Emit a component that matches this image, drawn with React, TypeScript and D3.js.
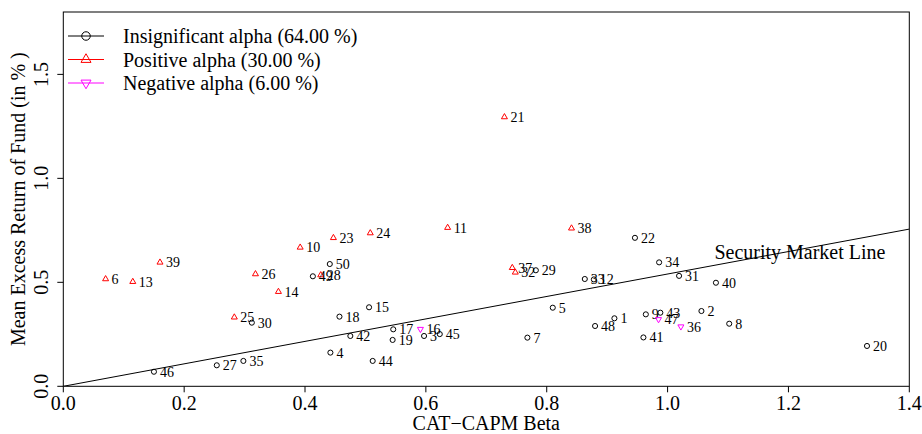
import * as d3 from 'd3';

// fund numbers 1..50
const fundIds = d3.range(1, 51);
const betas = [
  0.912, 1.056, 0.597, 0.442, 0.810, 0.070, 0.768, 1.102, 0.964, 0.392,
  0.636, 0.878, 0.115, 0.356, 0.506, 0.591, 0.546, 0.457, 0.545, 1.330,
  0.730, 0.946, 0.447, 0.508, 0.283, 0.318, 0.254, 0.426, 0.782, 0.312,
  1.019, 0.748, 0.863, 0.986, 0.298, 1.022, 0.743, 0.841, 0.160, 1.080,
  0.960, 0.475, 0.988, 0.512, 0.623, 0.150, 0.985, 0.880, 0.413, 0.441
];
const excessReturns = [
  0.327, 0.362, 0.242, 0.162, 0.378, 0.516, 0.234, 0.301, 0.346, 0.668,
  0.763, 0.514, 0.503, 0.455, 0.380, 0.275, 0.274, 0.335, 0.223, 0.194,
  1.295, 0.714, 0.714, 0.737, 0.332, 0.540, 0.101, 0.535, 0.558, 0.306,
  0.531, 0.548, 0.516, 0.596, 0.122, 0.287, 0.570, 0.760, 0.596, 0.498,
  0.235, 0.242, 0.354, 0.122, 0.251, 0.070, 0.322, 0.290, 0.529, 0.588
];
// 0 = insignificant, 1 = positive, 2 = negative alpha
const alphaGroup = [
  0, 0, 0, 0, 0, 1, 0, 0, 0, 1,
  1, 0, 1, 1, 0, 2, 0, 0, 0, 0,
  1, 0, 1, 1, 1, 1, 0, 1, 0, 0,
  0, 1, 0, 0, 0, 2, 1, 1, 1, 0,
  0, 0, 0, 0, 0, 0, 2, 0, 0, 0
];
const legendLabels = ['Insignificant alpha (64.00 %)', 'Positive alpha (30.00 %)', 'Negative alpha (6.00 %)'];
const groupColors = ['#000000', '#ff0000', '#ff00ff'];
const xTicks = [0, 0.2, 0.4, 0.6, 0.8, 1.0, 1.2, 1.4];
const yTicks = [0, 0.5, 1.0, 1.5];
const smlSlope = 0.54;

const W = 922;
const H = 434;
const plot = { left: 63.3, right: 909.3, top: 12, bottom: 386.3 };
const FONT = '"Liberation Serif", "Times New Roman", serif';

function marker(group: number, size: number) {
  if (group === 0) return null;
  const h = size;
  if (group === 1) return `M0,${-h * 1.15}L${h},${h * 0.58}L${-h},${h * 0.58}Z`;
  return `M0,${h * 1.15}L${h},${-h * 0.58}L${-h},${-h * 0.58}Z`;
}

function Symbol({ x, y, group, size }: { x: number; y: number; group: number; size: number }) {
  const color = groupColors[group];
  if (group === 0) {
    return <circle cx={x} cy={y} r={size * 0.85} fill="none" stroke={color} strokeWidth={1} />;
  }
  return <path d={marker(group, size)!} transform={`translate(${x},${y})`} fill="none" stroke={color} strokeWidth={1} />;
}

export default function App() {
  const xScale = d3.scaleLinear().domain([0, 1.4]).range([plot.left, plot.right]);
  const yScale = d3.scaleLinear().domain([0, 1.8]).range([plot.bottom, plot.top]);

  const points = fundIds.map((id, i) => ({ id, x: betas[i], y: excessReturns[i], g: alphaGroup[i] }));
  const smlLine = d3.line<number>().x((d) => xScale(d)).y((d) => yScale(d * smlSlope));

  return (
    <svg width={W} height={H} style={{ position: 'absolute', left: 0, top: 0, display: 'block', background: '#fff' }}
      fontFamily={FONT}>
      <defs>
        <clipPath id="plotClip">
          <rect x={plot.left} y={plot.top} width={plot.right - plot.left} height={plot.bottom - plot.top} />
        </clipPath>
      </defs>

      {/* security market line */}
      <path d={smlLine([0, 1.4])!} stroke="#000" strokeWidth={1} fill="none" clipPath="url(#plotClip)" />
      <text x={xScale(1.219)} y={yScale(0.646)} dy="0.35em" textAnchor="middle" fontSize={20}>Security Market Line</text>

      {/* points */}
      {points.map((p) => (
        <g key={p.id}>
          <Symbol x={xScale(p.x)} y={yScale(p.y)} group={p.g} size={3} />
          <text x={xScale(p.x) + 6} y={yScale(p.y)} dy="0.35em" fontSize={14}>{p.id}</text>
        </g>
      ))}

      {/* box */}
      <rect x={plot.left} y={plot.top} width={plot.right - plot.left} height={plot.bottom - plot.top}
        fill="none" stroke="#000" strokeWidth={1} />

      {/* x axis */}
      {xTicks.map((t) => (
        <g key={t}>
          <line x1={xScale(t)} x2={xScale(t)} y1={plot.bottom} y2={plot.bottom + 6} stroke="#000" />
          <text x={xScale(t)} y={409.5} textAnchor="middle" fontSize={20}>{t.toFixed(1)}</text>
        </g>
      ))}
      <text x={(plot.left + plot.right) / 2} y={430} textAnchor="middle" fontSize={20}>CAT−CAPM Beta</text>

      {/* y axis */}
      {yTicks.map((t) => (
        <g key={t}>
          <line x1={plot.left - 6} x2={plot.left} y1={yScale(t)} y2={yScale(t)} stroke="#000" />
          <text transform={`translate(48.3,${yScale(t)}) rotate(-90)`} textAnchor="middle" fontSize={20}>{t.toFixed(1)}</text>
        </g>
      ))}
      <text transform={`translate(25,${(plot.top + plot.bottom) / 2}) rotate(-90)`} textAnchor="middle" fontSize={20}>
        Mean Excess Return of Fund (in % )
      </text>

      {/* legend */}
      {legendLabels.map((label, i) => {
        const y = 36 + i * 23.5;
        return (
          <g key={label}>
            <line x1={68} x2={104} y1={y} y2={y} stroke={groupColors[i]} strokeWidth={1} />
            <Symbol x={86} y={y} group={i} size={5} />
            <text x={123} y={y} dy="0.35em" fontSize={20}>{label}</text>
          </g>
        );
      })}
    </svg>
  );
}
